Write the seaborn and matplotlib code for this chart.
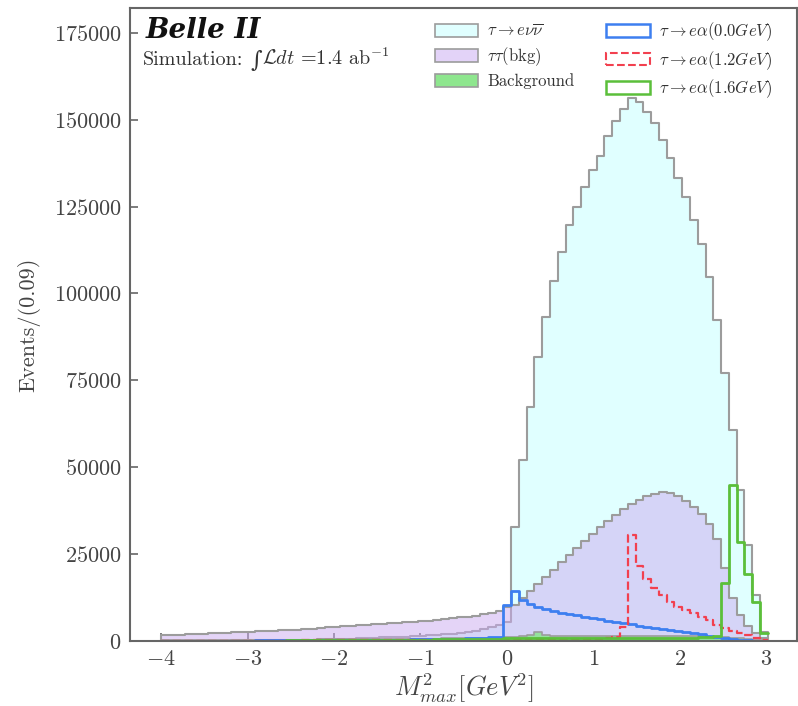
import numpy as np
import pandas as pd
import matplotlib
matplotlib.use("Agg")
import matplotlib.pyplot as plt
from matplotlib.patches import Patch
from matplotlib.colors import to_rgba
import seaborn as sns

# ---------------- data (events per 0.09 bin, bins from -4.00 to 3.02) ----------------
bin_width = 0.09
n_bins = 78
bin_start = -4.0

tau_enu = [50, 60, 70, 80, 90, 100, 110, 120, 140, 160,
           180, 200, 220, 240, 270, 300, 330, 360, 400, 440,
           480, 530, 580, 640, 700, 770, 850, 940, 1040, 1150,
           1200, 1300, 1400, 1500, 1650, 1800, 1950, 2100, 2300, 2550,
           3000, 3500, 4000, 4700, 5600,
           32900, 52100, 67400, 81600, 93200, 103700, 112000, 119600, 125000, 130600,
           135500, 139600, 145300, 149500, 153000, 156200, 155200, 152300, 149000, 144200,
           138900, 133200, 127700, 121200, 114300, 104800, 92400, 77000, 60700, 43500,
           27600, 13200, 2500]

tautau_bkg = [1600, 1700, 1800, 1900, 2000, 2100, 2200, 2300, 2400, 2500,
              2600, 2700, 2800, 2900, 3000, 3100, 3200, 3300, 3450, 3600,
              3750, 3900, 4050, 4200, 4350, 4500, 4650, 4800, 4950, 5100,
              5250, 5400, 5550, 5700, 5900, 6100, 6300, 6550, 6800, 7050,
              7350, 7700, 8100, 8600, 9900,
              10500, 12400, 14400, 16400, 18400, 20500, 22600, 24700, 26800, 28800,
              30800, 32700, 34500, 36300, 38000, 39500, 40700, 41700, 42400, 42800,
              42500, 41600, 40200, 38500, 36500, 33600, 29500, 21000, 12500, 7500,
              4200, 2200, 900]

background = [250, 260, 270, 280, 290, 300, 310, 320, 330, 340,
              350, 360, 370, 380, 390, 400, 410, 420, 430, 440,
              450, 460, 470, 480, 500, 520, 540, 560, 580, 600,
              620, 640, 660, 680, 700, 720, 750, 780, 810, 840,
              870, 900, 950, 1000, 1100,
              1300, 1500, 1600, 2500, 1700, 1500, 1450, 1400, 1400, 1400,
              1420, 1440, 1450, 1460, 1470, 1480, 1480, 1470, 1460, 1450,
              1440, 1420, 1400, 1380, 1350, 1300, 1250, 1150, 1000, 800,
              600, 400, 200]

sig_00 = [100, 100, 110, 110, 120, 120, 130, 130, 140, 140,
          150, 150, 160, 160, 170, 180, 190, 200, 210, 220,
          230, 240, 250, 260, 280, 300, 320, 340, 360, 380,
          400, 420, 450, 480, 510, 550, 600, 650, 700, 760,
          830, 920, 1050, 1250, 10400,
          14500, 11800, 10700, 9900, 9200, 8600, 8200, 7800, 7400, 7000,
          6600, 6200, 5800, 5450, 5100, 4800, 4450, 4100, 3800, 3450,
          3150, 2800, 2500, 2200, 1900, 1550, 1250, 900, 600, 350,
          200, 100, 50]

sig_12 = [60, 60, 70, 70, 80, 80, 90, 90, 100, 100,
          110, 110, 120, 120, 130, 130, 140, 150, 160, 170,
          180, 190, 200, 210, 220, 230, 240, 250, 260, 270,
          280, 290, 300, 310, 320, 330, 340, 350, 360, 370,
          380, 390, 400, 410, 420,
          430, 440, 450, 460, 470, 480, 490, 500, 520, 550,
          600, 700, 900, 1300,
          4100, 30500, 21600, 17800, 15200, 13200,
          11300, 9900, 8900, 8000, 7000, 6000, 4600, 3800, 2900, 2200,
          1700, 1000, 300]

sig_16 = [80, 80, 90, 90, 100, 100, 110, 110, 120, 120,
          130, 130, 140, 140, 150, 150, 160, 170, 180, 190,
          200, 210, 220, 230, 240, 250, 260, 280, 300, 320,
          340, 360, 380, 400, 420, 450, 480, 510, 540, 570,
          600, 640, 680, 720, 760,
          800, 820, 840, 860, 870, 880, 890, 900, 900, 910,
          910, 920, 920, 930, 930, 940, 940, 950, 950, 960,
          960, 970, 980, 1000, 1050, 1150, 1400, 16800, 44900, 28600,
          19300, 11200, 2400]

labels = [r"$\tau\rightarrow e\nu\overline{\nu}$", r"$\tau\tau$(bkg)", "Background",
          r"$\tau\rightarrow e\alpha(0.0GeV)$", r"$\tau\rightarrow e\alpha(1.2GeV)$",
          r"$\tau\rightarrow e\alpha(1.6GeV)$"]

xticks = [-4, -3, -2, -1, 0, 1, 2, 3]
yticks = [0, 25000, 50000, 75000, 100000, 125000, 150000, 175000]

# ---------------- build frame ----------------
edges = [round(bin_start + bin_width * k, 3) for k in range(n_bins + 1)]
centers = [e + bin_width / 2 for e in edges[:-1]]
df = pd.DataFrame({"x": centers, "tau_enu": tau_enu, "tautau": tautau_bkg,
                   "bkg": background, "s00": sig_00, "s12": sig_12, "s16": sig_16})

# ---------------- style ----------------
sns.set_theme(style="ticks")
plt.rcParams.update({
    "font.family": ["serif"],
    "font.serif": ["cmr10", "DejaVu Serif"],
    "mathtext.fontset": "cm",
    "axes.formatter.use_mathtext": True,
    "axes.unicode_minus": True,
})

c_cyan = "#e0ffff"
c_purple = "#cbabf1"
c_green_fill = "#7ee87e"
c_edge = "#9c9c9c"
c_blue = "#3d7ff0"
c_red = "#f2404f"
c_green = "#5bbf3a"
txt = "#444444"

fig = plt.figure(figsize=(7.98, 7.06), dpi=100)
ax = fig.add_axes([0.163, 0.092, 0.836, 0.897])

sns.histplot(data=df, x="x", weights="tau_enu", bins=edges, element="step", fill=True,
             facecolor=to_rgba(c_cyan, 1.0), edgecolor=c_edge, linewidth=1.5, ax=ax)
sns.histplot(data=df, x="x", weights="tautau", bins=edges, element="step", fill=True,
             facecolor=to_rgba(c_purple, 0.5), edgecolor=c_edge, linewidth=1.5, ax=ax)
sns.histplot(data=df, x="x", weights="bkg", bins=edges, element="step", fill=True,
             facecolor=to_rgba(c_green_fill, 0.75), edgecolor=c_edge, linewidth=1.2, ax=ax)
sns.histplot(data=df, x="x", weights="s00", bins=edges, element="step", fill=False,
             color=c_blue, linewidth=2.0, ax=ax)
sns.histplot(data=df, x="x", weights="s12", bins=edges, element="step", fill=False,
             color=c_red, linewidth=1.6, linestyle="--", ax=ax)
sns.histplot(data=df, x="x", weights="s16", bins=edges, element="step", fill=False,
             color=c_green, linewidth=2.0, ax=ax)

ax.set_xlim(-4.36, 3.36)
ax.set_ylim(0, 182200)
ax.set_xticks(xticks)
ax.set_yticks(yticks)
ax.ticklabel_format(style="plain", axis="y", useOffset=False)
ax.tick_params(direction="in", length=6, width=1.2, color="#666666",
               labelsize=16, labelcolor=txt, pad=6)
for s in ax.spines.values():
    s.set_color("#666666")
    s.set_linewidth(1.5)

ax.set_xlabel(r"$M^2_{max}[GeV^2]$", fontsize=19, color=txt, labelpad=2)
ax.set_ylabel("Events/(0.09)", fontsize=16, color=txt, labelpad=10)

ax.text(0.024, 0.986, "Belle II", transform=ax.transAxes, ha="left", va="top",
        fontsize=20, fontweight="bold", fontstyle="italic",
        family=["DejaVu Serif"], color="#111111")

base_y = 0.910
t1 = ax.text(0.019, base_y, "Simulation:", transform=ax.transAxes, ha="left",
             va="baseline", fontsize=14.5, color="#333333")
t2 = ax.annotate("\u222b", xy=(1, base_y), xycoords=(t1, "axes fraction"),
                 xytext=(5, -1.5), textcoords="offset points", ha="left", va="baseline",
                 fontsize=16, fontstyle="italic", family=["DejaVu Serif"], color="#333333")
t3 = ax.annotate(r"$\mathcal{L}dt$ =1.4 ab$^{-1}$", xy=(1, base_y),
                 xycoords=(t2, "axes fraction"), xytext=(0.5, 0),
                 textcoords="offset points", ha="left", va="baseline",
                 fontsize=14.5, color="#333333")

handles = [
    Patch(facecolor=c_cyan, edgecolor=c_edge, linewidth=1.2),
    Patch(facecolor="#e3d3f8", edgecolor=c_edge, linewidth=1.2),
    Patch(facecolor="#8ee68e", edgecolor=c_edge, linewidth=1.2),
    Patch(facecolor="none", edgecolor=c_blue, linewidth=1.8),
    Patch(facecolor="none", edgecolor=c_red, linewidth=1.5, linestyle="--"),
    Patch(facecolor="none", edgecolor=c_green, linewidth=1.8),
]
leg = ax.legend(handles, labels, ncol=2, loc="upper left", bbox_to_anchor=(0.457, 0.980),
                frameon=False, fontsize=12, handlelength=2.6, handleheight=0.8,
                labelspacing=0.35, columnspacing=1.9, handletextpad=0.55, borderpad=0.0,
                borderaxespad=0.0)
for t in leg.get_texts():
    t.set_color("#333333")

fig.savefig("out.png", dpi=100)
